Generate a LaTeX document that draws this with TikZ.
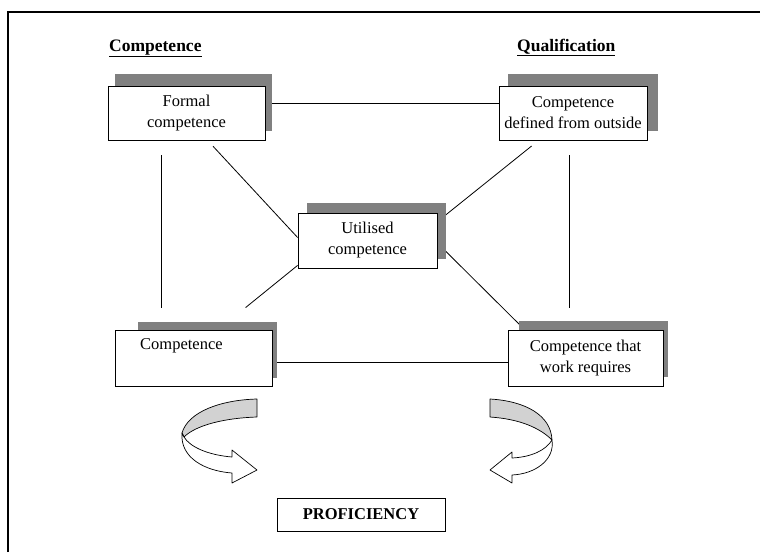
\documentclass[tikz,border=0pt]{standalone}
\usepackage{fontspec}
\setmainfont{Liberation Serif}
\usetikzlibrary{backgrounds}
\definecolor{shadowgray}{HTML}{808080}
\definecolor{bandgray}{HTML}{D2D2D2}
\begin{document}
\begin{tikzpicture}[x=1pt,y=-1pt,
  card/.style={draw=black, line width=0.8pt, fill=white, inner sep=0pt, align=center,
               font=\fontsize{16.5}{21}\selectfont},
  shade/.style={fill=shadowgray},
  link/.style={draw=black, line width=0.8pt},
  heading/.style={font=\fontsize{17.5}{21}\selectfont\bfseries, inner sep=0pt, anchor=base west},
  plain/.style={font=\fontsize{16.5}{21}\selectfont, inner sep=0pt, anchor=base west},
  ribbon/.style={draw=black, line width=0.7pt, line join=round}
]
\useasboundingbox (0,0) rectangle (760,552);

% outer frame (top and left edges)
\draw[line width=2pt] (8,552) -- (8,12) -- (760,12);

% column headings
\node[heading] (h1) at (109,51) {\underline{Competence}};
\node[heading] (h2) at (517,51) {\underline{Qualification}};

% boxes with their offset shadows
\fill[shade] (115,74) rectangle (272,131);
\node[card, minimum width=157pt, minimum height=54pt] (fc) at (186.5,113) {Formal\\competence};

\fill[shade] (508,74) rectangle (658,131);
\node[card, minimum width=148pt, minimum height=54pt] (cd) at (573,113) {Competence\\defined from outside};

\fill[shade] (307,203) rectangle (446,259);
\node[card, minimum width=139pt, minimum height=55pt] (uc) at (367.5,240.5) {Utilised\\competence};

\fill[shade] (138,322) rectangle (277,378);
\node[card, minimum width=157pt, minimum height=56pt] (cb) at (193.5,358) {};
\node[plain] (cbt) at (140,349) {Competence};

\fill[shade] (519,321) rectangle (668,377);
\node[card, minimum width=155pt, minimum height=56pt] (cw) at (585.5,358) {Competence that\\work requires};

\node[card, minimum width=168pt, minimum height=33pt, font=\fontsize{16.5}{21}\selectfont\bfseries]
  (pr) at (361,514.5) {PROFICIENCY};

% connecting lines, kept behind boxes and shadows
\begin{scope}[on background layer]
  \draw[link] ([yshift=10pt]fc.east) -- ([yshift=10pt]cd.west);
  \draw[link, shorten <=15pt, shorten >=22pt] ([xshift=54pt]fc.south west) -- ([xshift=47pt]cb.north west);
  \draw[link, shorten <=15pt, shorten >=22pt] ([xshift=71pt]cd.south west) -- ([xshift=62pt]cw.north west);
  \draw[link, shorten <=8pt] ([xshift=100pt]fc.south west) -- ([yshift=3pt]uc.west);
  \draw[link, shorten <=9pt] ([xshift=40pt]cd.south west) -- ([xshift=5pt,yshift=-5pt]uc.north east);
  \draw[link, shorten >=35pt] ([yshift=3pt]uc.south west) -- ([xshift=-54pt]cb.north east);
  \draw[link] ([yshift=-2.5pt]uc.east) -- ([xshift=17pt]cw.north west);
  \draw[link] ([yshift=-4pt]cb.east) -- ([yshift=-4pt]cw.west);
\end{scope}

% left curved ribbon arrow
\filldraw[ribbon, fill=bandgray]
  (257,399) .. controls (220,400) and (188,412) .. (182,433)
  -- (184,437) .. controls (196,425) and (225,418) .. (257,417) -- cycle;
\filldraw[ribbon, fill=white]
  (182,433) .. controls (180,458) and (205,471) .. (232,473)
  -- (232,483) -- (257,470) -- (232,450) -- (232,457)
  .. controls (208,455) and (190,447) .. (184,437) -- cycle;

% right curved ribbon arrow
\filldraw[ribbon, fill=bandgray]
  (490,399) .. controls (525,401) and (551,415) .. (552,440)
  .. controls (540,428) and (520,419) .. (490,417) -- cycle;
\filldraw[ribbon, fill=white]
  (552,440) .. controls (555,460) and (535,474) .. (512,475)
  -- (512,483) -- (490,470) -- (512,452) -- (512,458)
  .. controls (532,457) and (546,450) .. (552,440) -- cycle;
\end{tikzpicture}
\end{document}
